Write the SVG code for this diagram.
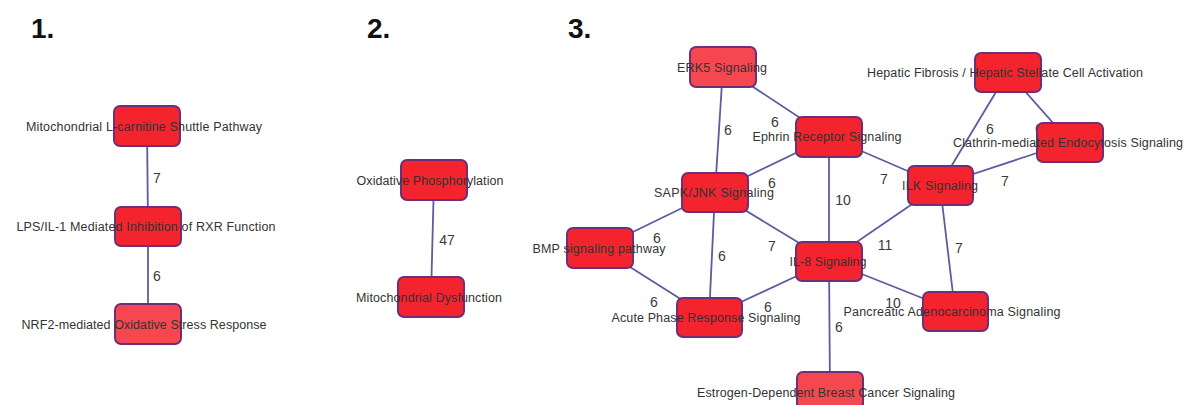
<svg xmlns="http://www.w3.org/2000/svg" width="1187" height="405" viewBox="0 0 1187 405">
<style>
.node rect{fill:#f4242e;stroke:#6e2f78;stroke-width:2}
.node.light rect{fill:#f5474f}
.node text{font-family:"Liberation Sans",Arial,sans-serif;font-size:12.5px;fill:#333;text-anchor:middle}
.edges line{stroke:#5c5c9e;stroke-width:1.8}
.elabel{font-family:"Liberation Sans",Arial,sans-serif;font-size:14px;fill:#3a3a3a;text-anchor:middle}
.hdr{font-family:"Liberation Sans",Arial,sans-serif;font-size:28px;font-weight:bold;fill:#111}
</style>
<rect width="1187" height="405" fill="#fff"/>
<text class="hdr" x="31" y="38">1.</text>
<text class="hdr" x="367" y="38">2.</text>
<text class="hdr" x="568" y="38">3.</text>

<g id="connectors" class="edges">
<line x1="147" y1="126" x2="148" y2="226"/>
<line x1="148" y1="226" x2="148" y2="324"/>
<line x1="434" y1="180" x2="431" y2="297"/>
<line x1="723" y1="67" x2="715" y2="192"/>
<line x1="723" y1="67" x2="829" y2="137"/>
<line x1="715" y1="192" x2="829" y2="137"/>
<line x1="715" y1="192" x2="829" y2="261"/>
<line x1="715" y1="192" x2="600" y2="248"/>
<line x1="715" y1="192" x2="709" y2="317"/>
<line x1="600" y1="248" x2="709" y2="317"/>
<line x1="709" y1="317" x2="829" y2="261"/>
<line x1="829" y1="137" x2="829" y2="261"/>
<line x1="829" y1="137" x2="940" y2="185"/>
<line x1="940" y1="185" x2="829" y2="261"/>
<line x1="940" y1="185" x2="1008" y2="72"/>
<line x1="940" y1="185" x2="1070" y2="142"/>
<line x1="1008" y1="72" x2="1070" y2="142"/>
<line x1="940" y1="185" x2="955" y2="311"/>
<line x1="829" y1="261" x2="955" y2="311"/>
<line x1="829" y1="261" x2="830" y2="392"/>
</g>

<g id="edge-labels">
<text class="elabel" x="157" y="183">7</text>
<text class="elabel" x="157" y="281">6</text>
<text class="elabel" x="447" y="245">47</text>
<text class="elabel" x="728" y="135">6</text>
<text class="elabel" x="775" y="127">6</text>
<text class="elabel" x="772" y="188">6</text>
<text class="elabel" x="843" y="205">10</text>
<text class="elabel" x="990" y="134">6</text>
<text class="elabel" x="1039" y="134">6</text>
<text class="elabel" x="884" y="184">7</text>
<text class="elabel" x="1005" y="186">7</text>
<text class="elabel" x="657" y="243">6</text>
<text class="elabel" x="722" y="261">6</text>
<text class="elabel" x="772" y="251">7</text>
<text class="elabel" x="654" y="307">6</text>
<text class="elabel" x="768" y="312">6</text>
<text class="elabel" x="839" y="332">6</text>
<text class="elabel" x="885" y="250">11</text>
<text class="elabel" x="959" y="253">7</text>
<text class="elabel" x="893" y="308">10</text>
</g>

<g id="n-mito-carnitine" class="node"><rect x="114" y="106" width="66" height="40" rx="6"/><text x="144" y="131" textLength="236">Mitochondrial L-carnitine Shuttle Pathway</text></g>
<g id="n-lps" class="node"><rect x="115" y="207" width="66" height="39" rx="6"/><text x="146" y="231" textLength="259">LPS/IL-1 Mediated Inhibition of RXR Function</text></g>
<g id="n-nrf2" class="node light"><rect x="115" y="304" width="66" height="40" rx="6"/><text x="144" y="329" textLength="245">NRF2-mediated Oxidative Stress Response</text></g>

<g id="n-oxphos" class="node"><rect x="401" y="160" width="66" height="40" rx="6"/><text x="430" y="185" textLength="147">Oxidative Phosphorylation</text></g>
<g id="n-mitodys" class="node"><rect x="398" y="277" width="66" height="40" rx="6"/><text x="429" y="302" textLength="146">Mitochondrial Dysfunction</text></g>

<g id="n-erk5" class="node light"><rect x="690" y="47" width="66" height="40" rx="6"/><text x="722" y="72" textLength="90">ERK5 Signaling</text></g>
<g id="n-ephrin" class="node"><rect x="796" y="117" width="66" height="40" rx="6"/><text x="827" y="141" textLength="149">Ephrin Receptor Signaling</text></g>
<g id="n-sapk" class="node"><rect x="682" y="173" width="66" height="39" rx="6"/><text x="714" y="197" textLength="120">SAPK/JNK Signaling</text></g>
<g id="n-hepatic" class="node"><rect x="975" y="53" width="66" height="39" rx="6"/><text x="1005" y="77" textLength="276">Hepatic Fibrosis / Hepatic Stellate Cell Activation</text></g>
<g id="n-clathrin" class="node"><rect x="1037" y="123" width="66" height="39" rx="6"/><text x="1068" y="147" textLength="230">Clathrin-mediated Endocytosis Signaling</text></g>
<g id="n-ilk" class="node"><rect x="908" y="166" width="65" height="39" rx="6"/><text x="940" y="190" textLength="76">ILK Signaling</text></g>
<g id="n-bmp" class="node"><rect x="567" y="228" width="66" height="40" rx="6"/><text x="599" y="253" textLength="133">BMP signaling pathway</text></g>
<g id="n-acute" class="node"><rect x="677" y="298" width="65" height="39" rx="6"/><text x="706" y="322" textLength="189">Acute Phase Response Signaling</text></g>
<g id="n-il8" class="node"><rect x="796" y="242" width="66" height="39" rx="6"/><text x="828" y="266" textLength="77">IL-8 Signaling</text></g>
<g id="n-pancreatic" class="node"><rect x="923" y="292" width="65" height="39" rx="6"/><text x="952" y="316" textLength="217">Pancreatic Adenocarcinoma Signaling</text></g>
<g id="n-estrogen" class="node light"><rect x="797" y="372" width="66" height="40" rx="6"/><text x="826" y="397" textLength="258">Estrogen-Dependent Breast Cancer Signaling</text></g>
</svg>
